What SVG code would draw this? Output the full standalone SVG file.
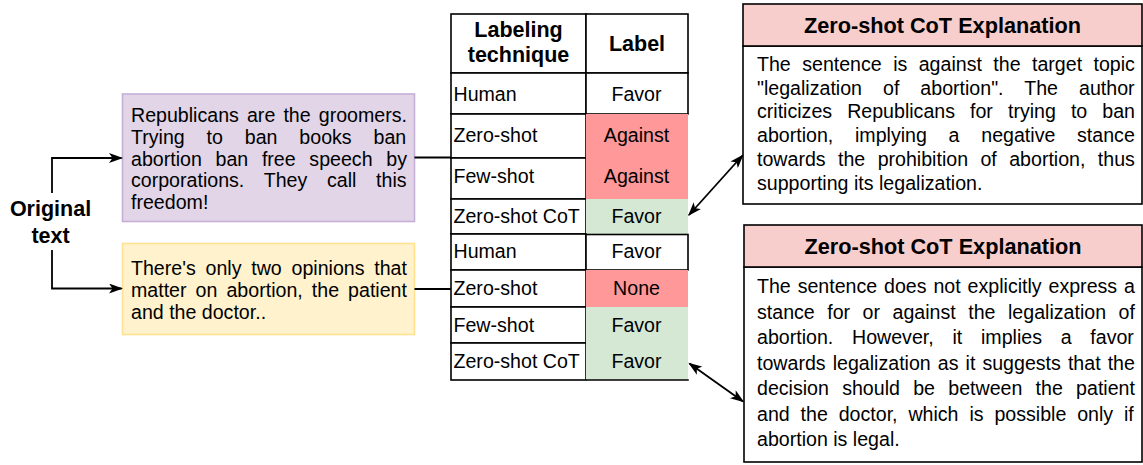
<svg xmlns="http://www.w3.org/2000/svg" width="1143" height="465" viewBox="0 0 1143 465">
  <style>
    .t { font-family: "Liberation Sans", Arial, Helvetica, sans-serif; font-size: 19.6px; fill: #000; }
    .b { font-family: "Liberation Sans", Arial, Helvetica, sans-serif; font-size: 21.5px; font-weight: bold; fill: #000; }
    .h { font-family: "Liberation Sans", Arial, Helvetica, sans-serif; font-size: 21.7px; font-weight: bold; fill: #000; }
    .mid { text-anchor: middle; }
    .cell { fill: #fff; stroke: #000; stroke-width: 1.6; }
    .red { fill: #FF9999; stroke: none; }
    .green { fill: #D5E8D4; stroke: none; }
    .wire { fill: none; stroke: #000; stroke-width: 1.8; }
    .frame { fill: #fff; stroke: #000; stroke-width: 1.6; }
    .head { fill: #F8CECC; stroke: #000; stroke-width: 1.6; }
  </style>
  <defs>
    <marker id="arrow" viewBox="0 0 14 10" markerWidth="14" markerHeight="10" refX="12.5" refY="5" orient="auto-start-reverse" markerUnits="userSpaceOnUse">
      <path d="M0,0 L14,5 L0,10 L3.5,5 Z" fill="#000"/>
    </marker>
  </defs>

  <rect width="1143" height="465" fill="#fff"/>

  <!-- source label -->
  <g id="original-text">
    <text class="b mid" x="50.5" y="216">Original</text>
    <text class="b mid" x="50.5" y="242.5">text</text>
  </g>

  <!-- first tweet -->
  <g id="tweet-1">
    <rect x="122.5" y="94" width="292" height="127.5" fill="#E1D5E7" stroke="#C6AFD6" stroke-width="1.6"/>
    <text class="t" x="131" y="121.7" word-spacing="2.68">Republicans are the groomers.</text>
    <text class="t" x="131" y="143.6" word-spacing="16.43">Trying to ban books ban</text>
    <text class="t" x="131" y="165.5" word-spacing="8.26">abortion ban free speech by</text>
    <text class="t" x="131" y="187.4" word-spacing="14.3">corporations. They call this</text>
    <text class="t" x="131" y="209.3">freedom!</text>
  </g>

  <!-- second tweet -->
  <g id="tweet-2">
    <rect x="122.5" y="243.5" width="292" height="91" fill="#FFF2CC" stroke="#FFE28F" stroke-width="1.6"/>
    <text class="t" x="131" y="275.2" word-spacing="4.33">There's only two opinions that</text>
    <text class="t" x="131" y="297.2" word-spacing="3.63">matter on abortion, the patient</text>
    <text class="t" x="131" y="319.2">and the doctor..</text>
  </g>

  <!-- label table -->
  <g id="label-table">
    <rect class="cell" x="451" y="14" width="135" height="59"/>
    <rect class="cell" x="586" y="14" width="102" height="59"/>
    <text class="b mid" x="518.5" y="37">Labeling</text>
    <text class="b mid" x="518.5" y="62">technique</text>
    <text class="b mid" x="637" y="51">Label</text>

    <!-- tweet 1 rows -->
    <rect class="cell" x="451" y="73" width="135" height="41"/>
    <rect class="cell" x="586" y="73" width="102" height="41"/>
    <rect class="cell" x="451" y="114" width="135" height="44"/>
    <rect class="cell" x="451" y="158" width="135" height="41"/>
    <rect class="cell" x="451" y="199" width="135" height="35"/>
    <rect class="red" x="586" y="114" width="102" height="85"/>
    <rect class="green" x="586" y="199" width="102" height="35"/>
    <text class="t" x="453.5" y="100.5">Human</text>
    <text class="t" x="453.5" y="141.7">Zero-shot</text>
    <text class="t" x="453.5" y="183.3">Few-shot</text>
    <text class="t" x="453.5" y="223.3">Zero-shot CoT</text>
    <text class="t mid" x="636.5" y="100.5">Favor</text>
    <text class="t mid" x="636.5" y="141.7">Against</text>
    <text class="t mid" x="636.5" y="183.3">Against</text>
    <text class="t mid" x="636.5" y="223.3">Favor</text>

    <!-- tweet 2 rows -->
    <rect class="cell" x="451" y="234" width="135" height="36"/>
    <rect class="cell" x="586" y="234.5" width="102" height="35.5"/>
    <rect class="cell" x="451" y="270" width="135" height="37"/>
    <rect class="cell" x="451" y="307" width="135" height="36"/>
    <rect class="cell" x="451" y="343" width="135" height="37"/>
    <rect class="red" x="586" y="270" width="102" height="37"/>
    <rect class="green" x="586" y="307" width="102" height="73"/>
    <line x1="586" y1="380" x2="688.8" y2="380" stroke="#000" stroke-width="1.6"/>
    <text class="t" x="453.5" y="258.3">Human</text>
    <text class="t" x="453.5" y="295">Zero-shot</text>
    <text class="t" x="453.5" y="331.7">Few-shot</text>
    <text class="t" x="453.5" y="368.3">Zero-shot CoT</text>
    <text class="t mid" x="636.5" y="258.3">Favor</text>
    <text class="t mid" x="636.5" y="295">None</text>
    <text class="t mid" x="636.5" y="331.7">Favor</text>
    <text class="t mid" x="636.5" y="368.3">Favor</text>
  </g>

  <!-- explanation for tweet 1 -->
  <g id="explanation-1">
    <rect class="frame" x="743" y="46" width="399" height="158"/>
    <rect class="head" x="743" y="4" width="399" height="42"/>
    <text class="h mid" x="942.5" y="33">Zero-shot CoT Explanation</text>
    <text class="t" x="757" y="71" word-spacing="5.98">The sentence is against the target topic</text>
    <text class="t" x="757" y="94.7" word-spacing="15.57">"legalization of abortion". The author</text>
    <text class="t" x="757" y="118.4" word-spacing="9.6">criticizes Republicans for trying to ban</text>
    <text class="t" x="757" y="142.1" word-spacing="16.3">abortion, implying a negative stance</text>
    <text class="t" x="757" y="165.8" word-spacing="6.96">towards the prohibition of abortion, thus</text>
    <text class="t" x="757" y="189.5">supporting its legalization.</text>
  </g>

  <!-- explanation for tweet 2 -->
  <g id="explanation-2">
    <rect class="frame" x="744" y="267" width="398" height="195"/>
    <rect class="head" x="744" y="225" width="398" height="42"/>
    <text class="h mid" x="943" y="254">Zero-shot CoT Explanation</text>
    <text class="t" x="757" y="293" word-spacing="1.45">The sentence does not explicitly express a</text>
    <text class="t" x="757" y="318.5" word-spacing="7.07">stance for or against the legalization of</text>
    <text class="t" x="757" y="344" word-spacing="13.3">abortion. However, it implies a favor</text>
    <text class="t" x="757" y="369.5" word-spacing="1.63">towards legalization as it suggests that the</text>
    <text class="t" x="757" y="395" word-spacing="7.83">decision should be between the patient</text>
    <text class="t" x="757" y="420.5" word-spacing="5.44">and the doctor, which is possible only if</text>
    <text class="t" x="757" y="446">abortion is legal.</text>
  </g>

  <!-- connectors -->
  <g id="connectors">
    <path class="wire" d="M52,193 V158 H121.5" marker-end="url(#arrow)"/>
    <path class="wire" d="M52,250 V288.5 H121.5" marker-end="url(#arrow)"/>
    <line class="wire" x1="414.5" y1="157.5" x2="451" y2="157.5"/>
    <line class="wire" x1="414.5" y1="289" x2="451" y2="289"/>
    <line class="wire" x1="689" y1="215" x2="742.5" y2="155.5" marker-start="url(#arrow)" marker-end="url(#arrow)"/>
    <line class="wire" x1="689.5" y1="363.5" x2="743" y2="401.5" marker-start="url(#arrow)" marker-end="url(#arrow)"/>
  </g>
</svg>
